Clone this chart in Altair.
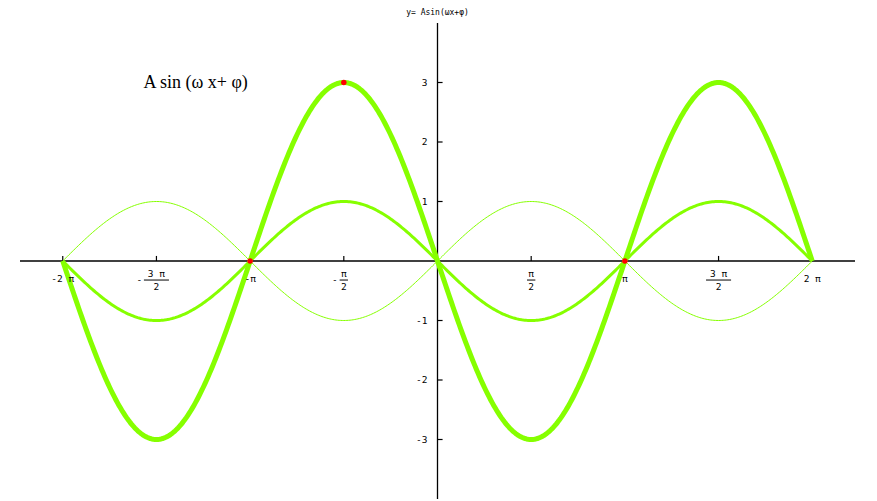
import numpy as np
import pandas as pd
import altair as alt

PI = np.pi

# curves y = A sin(x) with their line widths
amplitudes = [1, -1, -3]
line_widths = [1, 3, 5]
x_range = [-2 * PI, 2 * PI]
n_samples = 481

# highlighted points
pt_x = [-PI, -PI / 2, PI]
pt_y = [0, 3, 0]

# x tick labels
xt_vals = [-2 * PI, -1.5 * PI, -PI, -0.5 * PI, 0.5 * PI, PI, 1.5 * PI, 2 * PI]
xt_single = ["-2 π", "", "-π", "", "", "π", "", "2 π"]
xt_num = ["", "3 π", "", "π", "π", "", "3 π", ""]
xt_den = ["", "2", "", "2", "2", "", "2", ""]
xt_minus = ["", "-", "", "-", "", "", "", ""]
xt_barhalf = [0, 0.21, 0, 0.07, 0.07, 0, 0.21, 0]

# y tick labels
yt_vals = [3, 2, 1, -1, -2, -3]
yt_labels = ["3", "2", "1", "-1", "-2", "-3"]

title_text = "y= Asin(ωx+φ)"
title_pos = [0, 4.16]
annot_text = "A sin (ω x+ φ)"
annot_pos = [-4.93, 3.0]

GREEN = "#86FF00"
X_DOM = [-7, 7]
Y_DOM = [-4, 4]

xs = np.linspace(x_range[0], x_range[1], n_samples)
rows = []
for i, (a, w) in enumerate(zip(amplitudes, line_widths)):
    for xv in xs:
        rows.append({"x": xv, "y": a * np.sin(xv), "curve": i, "w": w})
curves_df = pd.DataFrame(rows)

xsc = alt.Scale(domain=X_DOM, nice=False, zero=False)
ysc = alt.Scale(domain=Y_DOM, nice=False, zero=False)
X = lambda f="x": alt.X(f"{f}:Q", scale=xsc, axis=None)
Y = lambda f="y": alt.Y(f"{f}:Q", scale=ysc, axis=None)

# axes lines
axes_df = pd.DataFrame({
    "x": [X_DOM[0], 0], "x2": [X_DOM[1], 0],
    "y": [0, Y_DOM[0]], "y2": [0, Y_DOM[1]],
})
axes = alt.Chart(axes_df).mark_rule(color="black", strokeWidth=1.3).encode(
    x=X(), x2="x2:Q", y=Y(), y2="y2:Q")

# x ticks (pointing up) and y ticks (pointing right)
tick_len = 0.085
xt_df = pd.DataFrame({"x": xt_vals, "y": 0.0, "y2": tick_len,
                      "single": xt_single, "num": xt_num, "den": xt_den,
                      "minus": xt_minus})
xt_df["bx1"] = np.array(xt_vals) - np.array(xt_barhalf)
xt_df["bx2"] = np.array(xt_vals) + np.array(xt_barhalf)
xt_df["mx"] = np.array(xt_vals) - np.array(xt_barhalf) - 0.03
xt_df["by"] = -0.32

xticks = alt.Chart(xt_df).mark_rule(color="black", strokeWidth=1.2).encode(
    x=X(), y=Y(), y2="y2:Q")

yt_df = pd.DataFrame({"y": yt_vals, "x": 0.0, "x2": tick_len, "lab": yt_labels,
                      "lx": -0.17})
yticks = alt.Chart(yt_df).mark_rule(color="black", strokeWidth=1.2).encode(
    x=X(), x2="x2:Q", y=Y())

FONT = "DejaVu Sans Mono"
single_lbl = alt.Chart(xt_df).transform_filter("datum.single != ''").mark_text(
    font=FONT, fontSize=9.5, baseline="middle", align="center", dy=18, color="black"
).encode(x=X(), y=Y(), text="single:N")
num_lbl = alt.Chart(xt_df).transform_filter("datum.num != ''").mark_text(
    font=FONT, fontSize=9.5, baseline="middle", align="center", dy=13, color="black"
).encode(x=X(), y=Y(), text="num:N")
den_lbl = alt.Chart(xt_df).transform_filter("datum.den != ''").mark_text(
    font=FONT, fontSize=9.5, baseline="middle", align="center", dy=26, color="black"
).encode(x=X(), y=Y(), text="den:N")
bar_lbl = alt.Chart(xt_df).transform_filter("datum.den != ''").mark_rule(
    color="black", strokeWidth=1
).encode(x=X("bx1"), x2="bx2:Q", y=Y("by"))
minus_lbl = alt.Chart(xt_df).transform_filter("datum.minus != ''").mark_text(
    font=FONT, fontSize=9.5, baseline="middle", align="right", color="black"
).encode(x=X("mx"), y=Y("by"), text="minus:N")

ylbl = alt.Chart(yt_df).mark_text(
    font=FONT, fontSize=9.5, baseline="middle", align="right", color="black"
).encode(x=X("lx"), y=Y(), text="lab:N")

lines = alt.Chart(curves_df).mark_line(color=GREEN, strokeJoin="round").encode(
    x=X(), y=Y(), detail="curve:N",
    strokeWidth=alt.StrokeWidth("w:Q", scale=None),
    order="x:Q")

pts = alt.Chart(pd.DataFrame({"x": pt_x, "y": pt_y})).mark_point(
    filled=True, color="#FF0000", size=30, opacity=1, shape="circle"
).encode(x=X(), y=Y())

annot = alt.Chart(pd.DataFrame({"x": [annot_pos[0]], "y": [annot_pos[1]],
                                "t": [annot_text]})).mark_text(
    font="Liberation Serif", fontSize=18, align="left", baseline="middle",
    color="black"
).encode(x=X(), y=Y(), text="t:N")

title_mark = alt.Chart(pd.DataFrame({"x": [title_pos[0]], "y": [title_pos[1]],
                                     "t": [title_text]})).mark_text(
    font=FONT, fontSize=8, align="center", baseline="middle", color="black"
).encode(x=X(), y=Y(), text="t:N")

chart = alt.layer(
    axes, xticks, yticks, lines, pts,
    single_lbl, num_lbl, den_lbl, bar_lbl, minus_lbl, ylbl, annot, title_mark
).properties(
    width=835, height=476,
    autosize=alt.AutoSizeParams(type="none"),
    padding={"left": 12, "top": 15, "right": 14, "bottom": 2},
    background="white",
).configure_view(stroke=None)

chart.save("out.html", embed_options={"renderer": "svg", "actions": False})
